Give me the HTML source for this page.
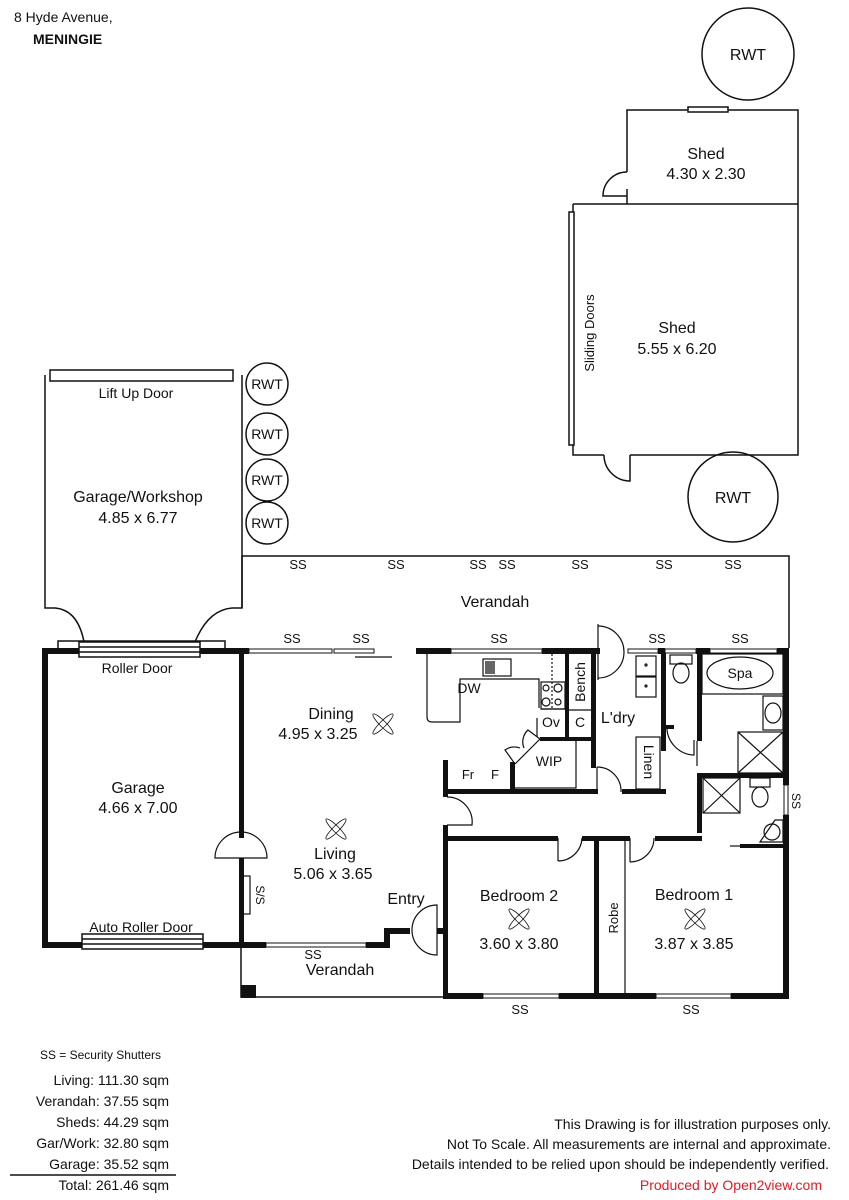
<!DOCTYPE html>
<html><head><meta charset="utf-8"><style>
html,body{margin:0;padding:0;background:#fff}
svg{display:block}
text{font-family:"Liberation Sans",sans-serif;fill:#111}
.n{font-family:"Liberation Sans Narrow","Liberation Sans",sans-serif}
</style></head><body>
<svg width="849" height="1200" viewBox="0 0 849 1200" xmlns="http://www.w3.org/2000/svg">
<text x="14" y="22" font-size="14">8 Hyde Avenue,</text>
<text x="33" y="44" font-size="14" font-weight="bold">MENINGIE</text>

<g fill="none" stroke="#111" stroke-width="1.5">
<circle cx="748" cy="54" r="46"/>
<circle cx="733" cy="497" r="45"/>
<circle cx="267" cy="384" r="21"/>
<circle cx="267" cy="434" r="21"/>
<circle cx="267" cy="480" r="21"/>
<circle cx="267" cy="523" r="21"/>
</g>
<g font-size="14" text-anchor="middle">
<text x="748" y="60" font-size="16">RWT</text>
<text x="733" y="503" font-size="16">RWT</text>
<text x="267" y="389">RWT</text>
<text x="267" y="439">RWT</text>
<text x="267" y="485">RWT</text>
<text x="267" y="528">RWT</text>
</g>

<g fill="none" stroke="#111" stroke-width="1.5">
<polyline points="627,172 627,110 798,110 798,455 630,455"/>
<line x1="627" y1="189" x2="627" y2="204"/>
<line x1="573" y1="204" x2="798" y2="204"/>
<polyline points="573,204 573,455 604,455"/>
<path d="M627,172 A24,24 0 0 0 603,196 L627,196"/>
<path d="M604,455 A26,26 0 0 0 630,481 L630,455"/>
<rect x="688" y="107" width="40" height="5" fill="#fff"/>
<rect x="569" y="212" width="5" height="233" fill="#fff"/>
</g>
<g font-size="16" text-anchor="middle">
<text x="706" y="159">Shed</text>
<text x="706" y="179">4.30 x 2.30</text>
<text x="677" y="333">Shed</text>
<text x="677" y="354">5.55 x 6.20</text>
<text transform="translate(594,333) rotate(-90)" font-size="13">Sliding Doors</text>
</g>

<g fill="none" stroke="#111" stroke-width="1.5">
<path d="M45,375 L45,608 L55,608 Q78,610 84,642 M242,375 L242,608 L232,608 Q208,610 195,642"/>
<polyline points="58,648 58,641 225,641 225,648"/>
<rect x="50" y="370" width="183" height="11" fill="#fff"/>
<rect x="79" y="642" width="121" height="15" fill="#fff"/>
<line x1="79" y1="647" x2="200" y2="647"/><line x1="79" y1="652" x2="200" y2="652"/>
<rect x="82" y="934" width="121" height="15" fill="#fff"/>
<line x1="82" y1="939" x2="203" y2="939"/><line x1="82" y1="944" x2="203" y2="944"/>
</g>
<g font-size="16" text-anchor="middle">
<text x="136" y="398" font-size="14">Lift Up Door</text>
<text x="138" y="502">Garage/Workshop</text>
<text x="138" y="523">4.85 x 6.77</text>
<text x="137" y="673" font-size="14">Roller Door</text>
<text x="141" y="932" font-size="14">Auto Roller Door</text>
<text x="138" y="793">Garage</text>
<text x="138" y="813">4.66 x 7.00</text>
</g>

<g fill="none" stroke="#111" stroke-width="1.5">
<polyline points="242,608 242,556 789,556 789,648"/>
<polyline points="241,945 241,997 445,997"/>
</g>
<rect x="241" y="985" width="15" height="13" fill="#111"/>

<g fill="#111">
<rect x="42" y="648" width="37" height="6"/>
<rect x="200" y="648" width="49" height="6"/>
<rect x="416" y="648" width="35" height="6"/>
<rect x="542" y="648" width="58" height="6"/>
<rect x="658" y="648" width="7" height="6"/>
<rect x="696" y="648" width="14" height="6"/>
<rect x="777" y="648" width="12" height="6"/>
<rect x="42" y="648" width="6" height="300"/>
<rect x="42" y="942" width="40" height="6"/>
<rect x="203" y="942" width="63" height="6"/>
<rect x="239" y="648" width="5" height="190"/>
<rect x="239" y="858" width="5" height="90"/>
<rect x="366" y="942" width="24" height="6"/>
<rect x="384" y="928" width="6" height="20"/>
<rect x="384" y="928" width="26" height="6"/>
<rect x="437" y="928" width="8" height="6"/>
<rect x="443" y="760" width="5" height="37"/>
<rect x="443" y="825" width="5" height="173"/>
<rect x="443" y="789" width="155" height="5"/>
<rect x="622" y="789" width="44" height="5"/>
<rect x="510" y="762" width="5" height="30"/>
<rect x="565" y="651" width="4" height="90"/>
<rect x="540" y="737" width="56" height="4"/>
<rect x="591" y="651" width="5" height="117"/>
<rect x="661" y="651" width="5" height="100"/>
<rect x="697" y="651" width="5" height="90"/>
<rect x="666" y="725" width="8" height="4"/>
<rect x="697" y="773" width="88" height="5"/>
<rect x="697" y="773" width="5" height="60"/>
<rect x="740" y="844" width="45" height="4"/>
<rect x="783" y="648" width="6" height="137"/>
<rect x="783" y="815" width="6" height="183"/>
<rect x="443" y="836" width="115" height="5"/>
<rect x="582" y="836" width="48" height="5"/>
<rect x="655" y="836" width="47" height="5"/>
<rect x="594" y="836" width="5" height="162"/>
<rect x="443" y="993" width="40" height="6"/>
<rect x="559" y="993" width="97" height="6"/>
<rect x="731" y="993" width="58" height="6"/>
</g>

<g fill="#fff" stroke="#111" stroke-width="1">
<rect x="249" y="649" width="83" height="4"/>
<rect x="334" y="649" width="40" height="4"/>
<rect x="451" y="649" width="91" height="4"/>
<rect x="628" y="649" width="30" height="4"/>
<rect x="665" y="649" width="31" height="4"/>
<rect x="710" y="649" width="67" height="4"/>
<rect x="266" y="943" width="100" height="4"/>
<rect x="483" y="994" width="76" height="4"/>
<rect x="656" y="994" width="75" height="4"/>
<rect x="784" y="785" width="4" height="30"/>
</g>

<g fill="none" stroke="#111" stroke-width="1.2">
<line x1="355" y1="657" x2="392" y2="657"/>
<path d="M215,858 A26,26 0 0 1 267,858 Z"/>
<rect x="242" y="876" width="8" height="38"/>
<path d="M437,905 A25,25 0 0 0 437,955 Z"/>
<path d="M447,797 A25,25 0 0 1 472,825 L447,825"/>
<path d="M598,626 A26,26 0 0 1 598,678"/><line x1="598" y1="624" x2="598" y2="680"/>
<path d="M597,767 A24,24 0 0 1 621,792"/><line x1="597" y1="767" x2="597" y2="792"/>
<path d="M667,725 A28,28 0 0 0 694,755 L694,740"/>
<line x1="697" y1="741" x2="697" y2="766"/>
<path d="M558,861 A24,24 0 0 0 582,838"/><line x1="558" y1="838" x2="558" y2="861"/>
<path d="M630,862 A24,24 0 0 0 654,838"/><line x1="630" y1="838" x2="630" y2="862"/>
<line x1="730" y1="846" x2="740" y2="846"/>
<line x1="625" y1="841" x2="625" y2="993"/>
<path d="M427,654 L427,717 Q427,722 432,722 L460,722 L460,679 L539,679 L539,708"/>
<rect x="483" y="659" width="28" height="17" fill="#fff"/>
<rect x="485" y="661" width="10" height="13" fill="#666" stroke="none"/>
<line x1="552" y1="654" x2="552" y2="708" stroke-dasharray="2,2"/>
<rect x="541" y="682" width="24" height="27"/>
<circle cx="546" cy="688" r="3"/><circle cx="558" cy="688" r="4"/>
<circle cx="546" cy="702" r="4"/><circle cx="558" cy="702" r="3"/>
<line x1="541" y1="709" x2="565" y2="709"/>
<line x1="537" y1="718" x2="537" y2="737"/>
<line x1="569" y1="710" x2="591" y2="710"/>
<line x1="540" y1="739" x2="515" y2="764"/>
<polyline points="515,788 576,788 576,741"/>
<path d="M540,739 L528,730 A16,16 0 0 0 524,748"/>
<path d="M515,764 L505,750 A16,16 0 0 1 520,748"/>
<rect x="636" y="656" width="20" height="20"/><rect x="636" y="677" width="20" height="20"/>
<circle cx="646" cy="665" r="1"/><circle cx="646" cy="686" r="1"/>
<rect x="636" y="737" width="24" height="52"/>
<rect x="670" y="655" width="22" height="9"/>
<ellipse cx="681" cy="673" rx="8" ry="10"/>
<rect x="702" y="654" width="81" height="40"/>
<ellipse cx="740" cy="673" rx="33" ry="16"/>
<rect x="763" y="696" width="20" height="34"/>
<ellipse cx="773" cy="713" rx="8" ry="10"/>
<rect x="738" y="732" width="45" height="41"/>
<line x1="738" y1="732" x2="783" y2="773"/><line x1="783" y1="732" x2="738" y2="773"/>
<rect x="703" y="778" width="37" height="35"/>
<line x1="703" y1="778" x2="740" y2="813"/><line x1="740" y1="778" x2="703" y2="813"/>
<rect x="750" y="778" width="20" height="9"/>
<ellipse cx="760" cy="797" rx="8" ry="10"/>
<path d="M760,842 L783,842 L783,820 L775,820 Z"/>
<circle cx="772" cy="832" r="8"/>
</g>
<g fill="none" stroke="#111" stroke-width="0.8">
<g transform="translate(383,724)"><ellipse rx="14" ry="3" transform="rotate(45)"/><ellipse rx="14" ry="3" transform="rotate(-45)"/></g>
<g transform="translate(336,829)"><ellipse rx="14" ry="3" transform="rotate(45)"/><ellipse rx="14" ry="3" transform="rotate(-45)"/></g>
<g transform="translate(519,919)"><ellipse rx="14" ry="3" transform="rotate(45)"/><ellipse rx="14" ry="3" transform="rotate(-45)"/></g>
<g transform="translate(695,919)"><ellipse rx="14" ry="3" transform="rotate(45)"/><ellipse rx="14" ry="3" transform="rotate(-45)"/></g>
</g>

<g font-size="16" text-anchor="middle">
<text x="495" y="607">Verandah</text>
<text x="331" y="719">Dining</text>
<text x="318" y="739">4.95 x 3.25</text>
<text x="335" y="859">Living</text>
<text x="333" y="879">5.06 x 3.65</text>
<text x="406" y="904">Entry</text>
<text x="340" y="975">Verandah</text>
<text x="519" y="901">Bedroom 2</text>
<text x="519" y="949">3.60 x 3.80</text>
<text x="694" y="900">Bedroom 1</text>
<text x="694" y="949">3.87 x 3.85</text>
<text x="618" y="723">L'dry</text>
<text x="740" y="678" font-size="14">Spa</text>
<text x="549" y="766" font-size="14">WIP</text>
<text x="469" y="693" font-size="14">DW</text>
<text x="551" y="727" font-size="14">Ov</text>
<text x="580" y="727" font-size="14">C</text>
<text x="468" y="779" font-size="13">Fr</text>
<text x="495" y="779" font-size="13">F</text>
<text transform="translate(585,682) rotate(-90)" font-size="14">Bench</text>
<text transform="translate(644,762) rotate(90)" font-size="14">Linen</text>
<text transform="translate(618,918) rotate(-90)" font-size="13">Robe</text>
<text transform="translate(256,895) rotate(90)" font-size="12">S/S</text>
<text transform="translate(792,801) rotate(90)" font-size="12">SS</text>
</g>
<g font-size="13" text-anchor="middle">
<text x="298" y="569">SS</text><text x="396" y="569">SS</text><text x="478" y="569">SS</text><text x="507" y="569">SS</text>
<text x="580" y="569">SS</text><text x="664" y="569">SS</text><text x="733" y="569">SS</text>
<text x="292" y="643">SS</text><text x="361" y="643">SS</text><text x="499" y="643">SS</text>
<text x="657" y="643">SS</text><text x="740" y="643">SS</text>
<text x="313" y="959">SS</text><text x="520" y="1014">SS</text><text x="691" y="1014">SS</text>
</g>

<g class="n" font-size="14" text-anchor="end">
<text x="161" y="1059" font-size="12">SS =  Security Shutters</text>
<text x="169" y="1085">Living: 111.30 sqm</text>
<text x="169" y="1106">Verandah: 37.55 sqm</text>
<text x="169" y="1127">Sheds:  44.29 sqm</text>
<text x="169" y="1148">Gar/Work:  32.80 sqm</text>
<text x="169" y="1169">Garage:  35.52 sqm</text>
<text x="169" y="1190">Total:  261.46 sqm</text>
<text x="831" y="1129">This Drawing is for illustration purposes only.</text>
<text x="831" y="1149">Not To Scale. All measurements are internal and approximate.</text>
<text x="829" y="1169">Details intended to be relied upon should be independently verified.</text>
<text x="822" y="1190" style="fill:#e01b24">Produced by Open2view.com</text>
</g>
<line x1="10" y1="1175" x2="176" y2="1175" stroke="#111" stroke-width="1.5"/>
</svg>
</body></html>
